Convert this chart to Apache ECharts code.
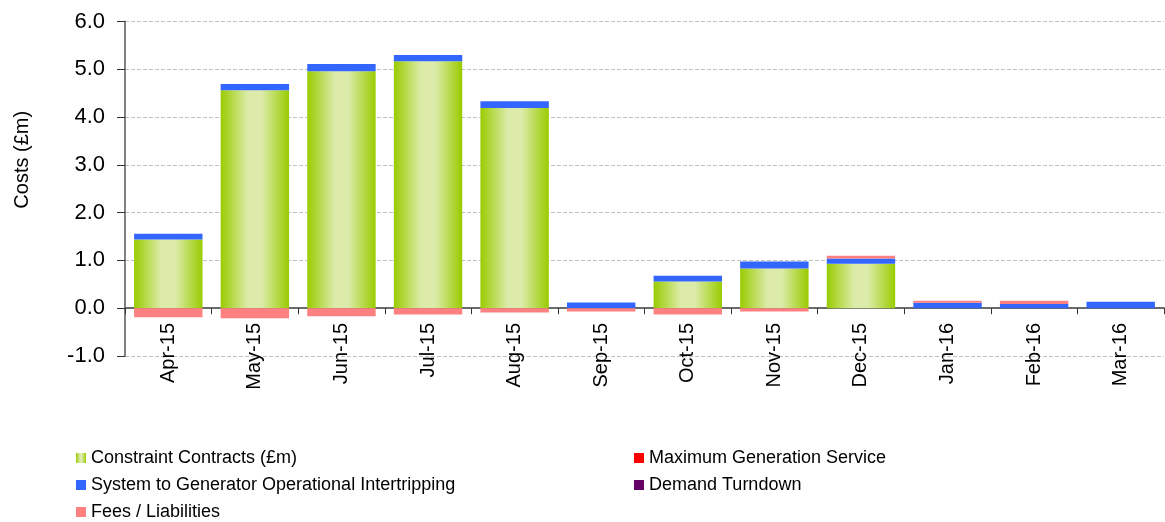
<!DOCTYPE html>
<html>
<head>
<meta charset="utf-8">
<script src="https://cdn.jsdelivr.net/npm/echarts@6/dist/echarts.min.js"></script>
<style>html,body{margin:0;padding:0;background:#fff}#c{width:1165px;height:522px}</style>
</head>
<body>
<div id="c"></div>
<script>
var categories = ['Apr-15','May-15','Jun-15','Jul-15','Aug-15','Sep-15','Oct-15','Nov-15','Dec-15','Jan-16','Feb-16','Mar-16'];
var constraintContracts = [1.44, 4.56, 4.96, 5.17, 4.19, 0.00, 0.56, 0.83, 0.93, 0.00, 0.00, 0.00];
var intertripping = [0.12, 0.13, 0.15, 0.13, 0.14, 0.12, 0.12, 0.145, 0.11, 0.115, 0.09, 0.135];
var feesLiabilities = [-0.19, -0.21, -0.17, -0.13, -0.09, -0.07, -0.13, -0.07, 0.06, 0.04, 0.065, 0.00];
var maxGeneration = [0, 0, 0, 0, 0, 0, 0, 0, 0, 0, 0, 0];
var demandTurndown = [0, 0, 0, 0, 0, 0, 0, 0, 0, 0, 0, 0];
var yTicks = [-1, 0, 1, 2, 3, 4, 5, 6];

var chart = echarts.init(document.getElementById('c'), null, {renderer: 'canvas'});
var greenGrad = new echarts.graphic.LinearGradient(0, 0, 1, 0, [
  {offset: 0, color: '#99cc00'},
  {offset: 0.4, color: '#dcebaa'},
  {offset: 0.6, color: '#dcebaa'},
  {offset: 1, color: '#99cc00'}
]);
var font = 'Liberation Sans, Arial, sans-serif';
var legendText = {fontFamily: font, fontSize: 18, color: '#000'};
function leg(name, left, top) {
  return {left: left, top: top, itemWidth: 10, itemHeight: 10, icon: 'rect', padding: 0,
          textStyle: legendText, data: [name]};
}
chart.setOption({
  animation: false,
  grid: {left: 125, right: 1, top: 21.5, bottom: 166, containLabel: false},
  legend: [
    leg('Constraint Contracts (£m)', 76, 449),
    leg('System to Generator Operational Intertripping', 76, 476),
    leg('Fees / Liabilities', 76, 503),
    leg('Maximum Generation Service', 634, 449),
    leg('Demand Turndown', 634, 476)
  ],
  xAxis: {
    type: 'category', data: categories,
    axisLine: {onZero: true, lineStyle: {color: '#6a6a6a', width: 2}},
    axisTick: {show: true, length: 6, lineStyle: {color: '#333'}},
    axisLabel: {rotate: 90, fontFamily: font, fontSize: 20, color: '#000', margin: -33}
  },
  yAxis: {
    type: 'value', min: yTicks[0], max: yTicks[yTicks.length - 1], interval: 1,
    name: 'Costs (£m)', nameLocation: 'middle', nameGap: 93, nameRotate: 90,
    nameTextStyle: {fontFamily: font, fontSize: 20, color: '#000', padding: [0, 0, 0, 58]},
    axisLine: {show: true, lineStyle: {color: '#808080', width: 2}},
    axisTick: {show: true, length: 8, lineStyle: {color: '#333'}},
    axisLabel: {fontFamily: font, fontSize: 22, color: '#000', margin: 20, formatter: function (v) { return v.toFixed(1); }},
    splitLine: {show: true, lineStyle: {color: '#c0c0c0', type: [4, 2], width: 1}}
  },
  series: [
    {name: 'Constraint Contracts (£m)', type: 'bar', stack: 'c', barWidth: '79%', data: constraintContracts, itemStyle: {color: greenGrad}},
    {name: 'System to Generator Operational Intertripping', type: 'bar', stack: 'c', data: intertripping, itemStyle: {color: '#3366ff'}},
    {name: 'Fees / Liabilities', type: 'bar', stack: 'c', data: feesLiabilities, itemStyle: {color: '#ff8080'}},
    {name: 'Maximum Generation Service', type: 'bar', stack: 'c', data: maxGeneration, itemStyle: {color: '#ff0000'}},
    {name: 'Demand Turndown', type: 'bar', stack: 'c', data: demandTurndown, itemStyle: {color: '#660066'}}
  ]
});
</script>
</body>
</html>
